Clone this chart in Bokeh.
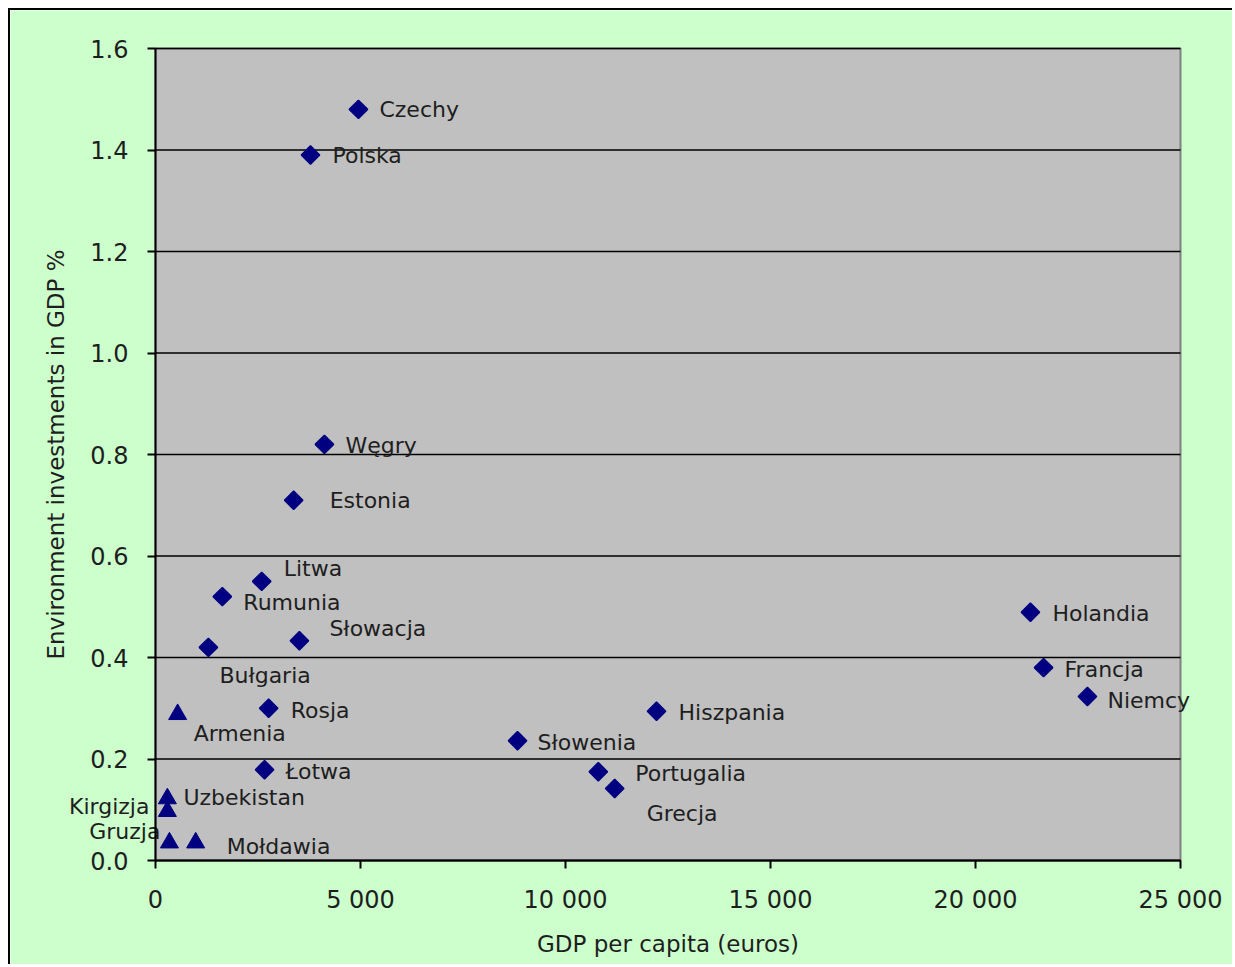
from bokeh.plotting import figure
from bokeh.models import ColumnDataSource, Range1d, FixedTicker
from bokeh.core.properties import value
from bokeh.embed import file_html
from bokeh.resources import INLINE
import math

# ---- data ----
eu_names = ["Czechy", "Polska", "Węgry", "Estonia", "Litwa", "Rumunia", "Słowacja",
            "Bułgaria", "Rosja", "Łotwa", "Słowenia", "Hiszpania", "Portugalia",
            "Grecja", "Holandia", "Francja", "Niemcy"]
eu_gdp = [4950, 3780, 4120, 3370, 2590, 1630, 3510, 1290, 2760, 2660, 8830, 12220,
          10800, 11200, 21340, 21660, 22730]
eu_inv = [1.48, 1.39, 0.82, 0.71, 0.55, 0.52, 0.433, 0.42, 0.30, 0.179, 0.236, 0.294,
          0.175, 0.142, 0.489, 0.38, 0.323]

cis_names = ["Armenia", "Uzbekistan", "Kirgizja", "Gruzja", "Mołdawia"]
cis_gdp = [540, 290, 290, 340, 980]
cis_inv = [0.288, 0.122, 0.097, 0.035, 0.035]

x_ticks = [0, 5000, 10000, 15000, 20000, 25000]
x_tick_labels = ["0", "5 000", "10 000", "15 000", "20 000", "25 000"]
y_ticks = [0.0, 0.2, 0.4, 0.6, 0.8, 1.0, 1.2, 1.4, 1.6]
y_tick_labels = ["0.0", "0.2", "0.4", "0.6", "0.8", "1.0", "1.2", "1.4", "1.6"]

# ---- label placement (screen pixel offsets: right, down) ----
eu_dx = [21, 22, 21, 36, 22, 21, 30, 11, 22, 21, 20, 22, 37, 32, 22, 21, 20]
eu_dy = [0, 0, 1, 0, -13, 6, -12, 28, 2, 2, 2, 1, 2, 25, 1, 2, 4]
eu_align = ["left"] * len(eu_names)
cis_dx = [16, 16, -18, -9, 31]
cis_dy = [19, -1, -5, -11, 4]
cis_align = ["left", "left", "right", "right", "left"]

# ---- layout geometry (pixels inside the figure canvas) ----
W, H = 1224, 956
AREA_L, AREA_R, AREA_T, AREA_B = 145, 1170, 38, 850
x0, x1 = x_ticks[0], x_ticks[-1]
y0, y1 = y_ticks[0], y_ticks[-1]
sx = (x1 - x0) / (AREA_R - AREA_L)
sy = (y1 - y0) / (AREA_B - AREA_T)
x_range = Range1d(x0 - AREA_L * sx, x1 + (W - AREA_R) * sx)
y_range = Range1d(y0 - (H - AREA_B) * sy, y1 + AREA_T * sy)

FONT = "DejaVu Sans"
NAVY = "#000080"
TXT = "#1e1e1e"

p = figure(width=W, height=H, output_backend="svg", toolbar_location=None,
           x_range=x_range, y_range=y_range,
           min_border_left=0, min_border_right=0, min_border_top=0,
           min_border_bottom=0)
p.styles = {"border-left": "2px solid #000000", "border-top": "2px solid #000000",
            "margin-left": "8px", "margin-top": "8px"}

p.border_fill_color = "#CCFFCC"
p.background_fill_color = "#CCFFCC"
p.outline_line_color = None
p.grid.grid_line_color = None

# plot area
p.quad(left=[x0], right=[x1], bottom=[y0], top=[y1], fill_color="#C0C0C0",
       line_color="#808080", line_width=2)
# horizontal gridlines
p.segment(x0=[x0] * len(y_ticks), x1=[x1] * len(y_ticks), y0=y_ticks, y1=y_ticks,
          line_color="#000000", line_width=1.5)

p.xaxis.ticker = FixedTicker(ticks=x_ticks)
p.xaxis.major_label_overrides = dict(zip(x_ticks, x_tick_labels))
p.yaxis.ticker = FixedTicker(ticks=y_ticks)
p.yaxis.major_label_overrides = dict(zip(y_ticks, y_tick_labels))
p.xaxis.fixed_location = y0
p.yaxis.fixed_location = x0
p.xaxis.bounds = (x0, x1)
p.yaxis.bounds = (y0, y1)

for ax in (p.xaxis, p.yaxis):
    ax.axis_line_color = "#000000"
    ax.axis_line_width = 2
    ax.major_tick_line_color = "#000000"
    ax.major_tick_line_width = 2
    ax.major_tick_out = 8
    ax.major_tick_in = 0
    ax.minor_tick_line_color = None
    ax.major_label_text_font = FONT
    ax.major_label_text_font_size = "24px"
    ax.major_label_text_color = TXT
    ax.axis_label_text_font = FONT
    ax.axis_label_text_font_size = "23px"
    ax.axis_label_text_font_style = "normal"
    ax.axis_label_text_color = TXT

p.xaxis.axis_label = "GDP per capita (euros)"
p.yaxis.axis_label = "Environment investments in GDP %"
p.xaxis.major_label_standoff = 17
p.yaxis.major_label_standoff = 19
p.xaxis.axis_label_standoff = 14
p.yaxis.axis_label_standoff = 18

eu = ColumnDataSource(dict(x=eu_gdp, y=eu_inv, name=eu_names, dx=eu_dx, dy=eu_dy,
                           align=eu_align))
cis = ColumnDataSource(dict(x=cis_gdp, y=cis_inv, name=cis_names, dx=cis_dx, dy=cis_dy,
                            align=cis_align))

p.scatter("x", "y", source=eu, marker="square", size=13, angle=math.pi / 4,
          fill_color=NAVY, line_color=NAVY, line_width=1.5)
p.scatter("x", "y", source=cis, marker="triangle", size=18,
          fill_color=NAVY, line_color=NAVY, line_width=1)

for src in (eu, cis):
    p.text("x", "y", text="name", source=src, x_offset="dx", y_offset="dy",
           text_align="align", text_baseline="middle",
           text_font=value(FONT), text_font_size="22px", text_color=TXT)

open("out.html", "w").write(file_html(p, INLINE))
